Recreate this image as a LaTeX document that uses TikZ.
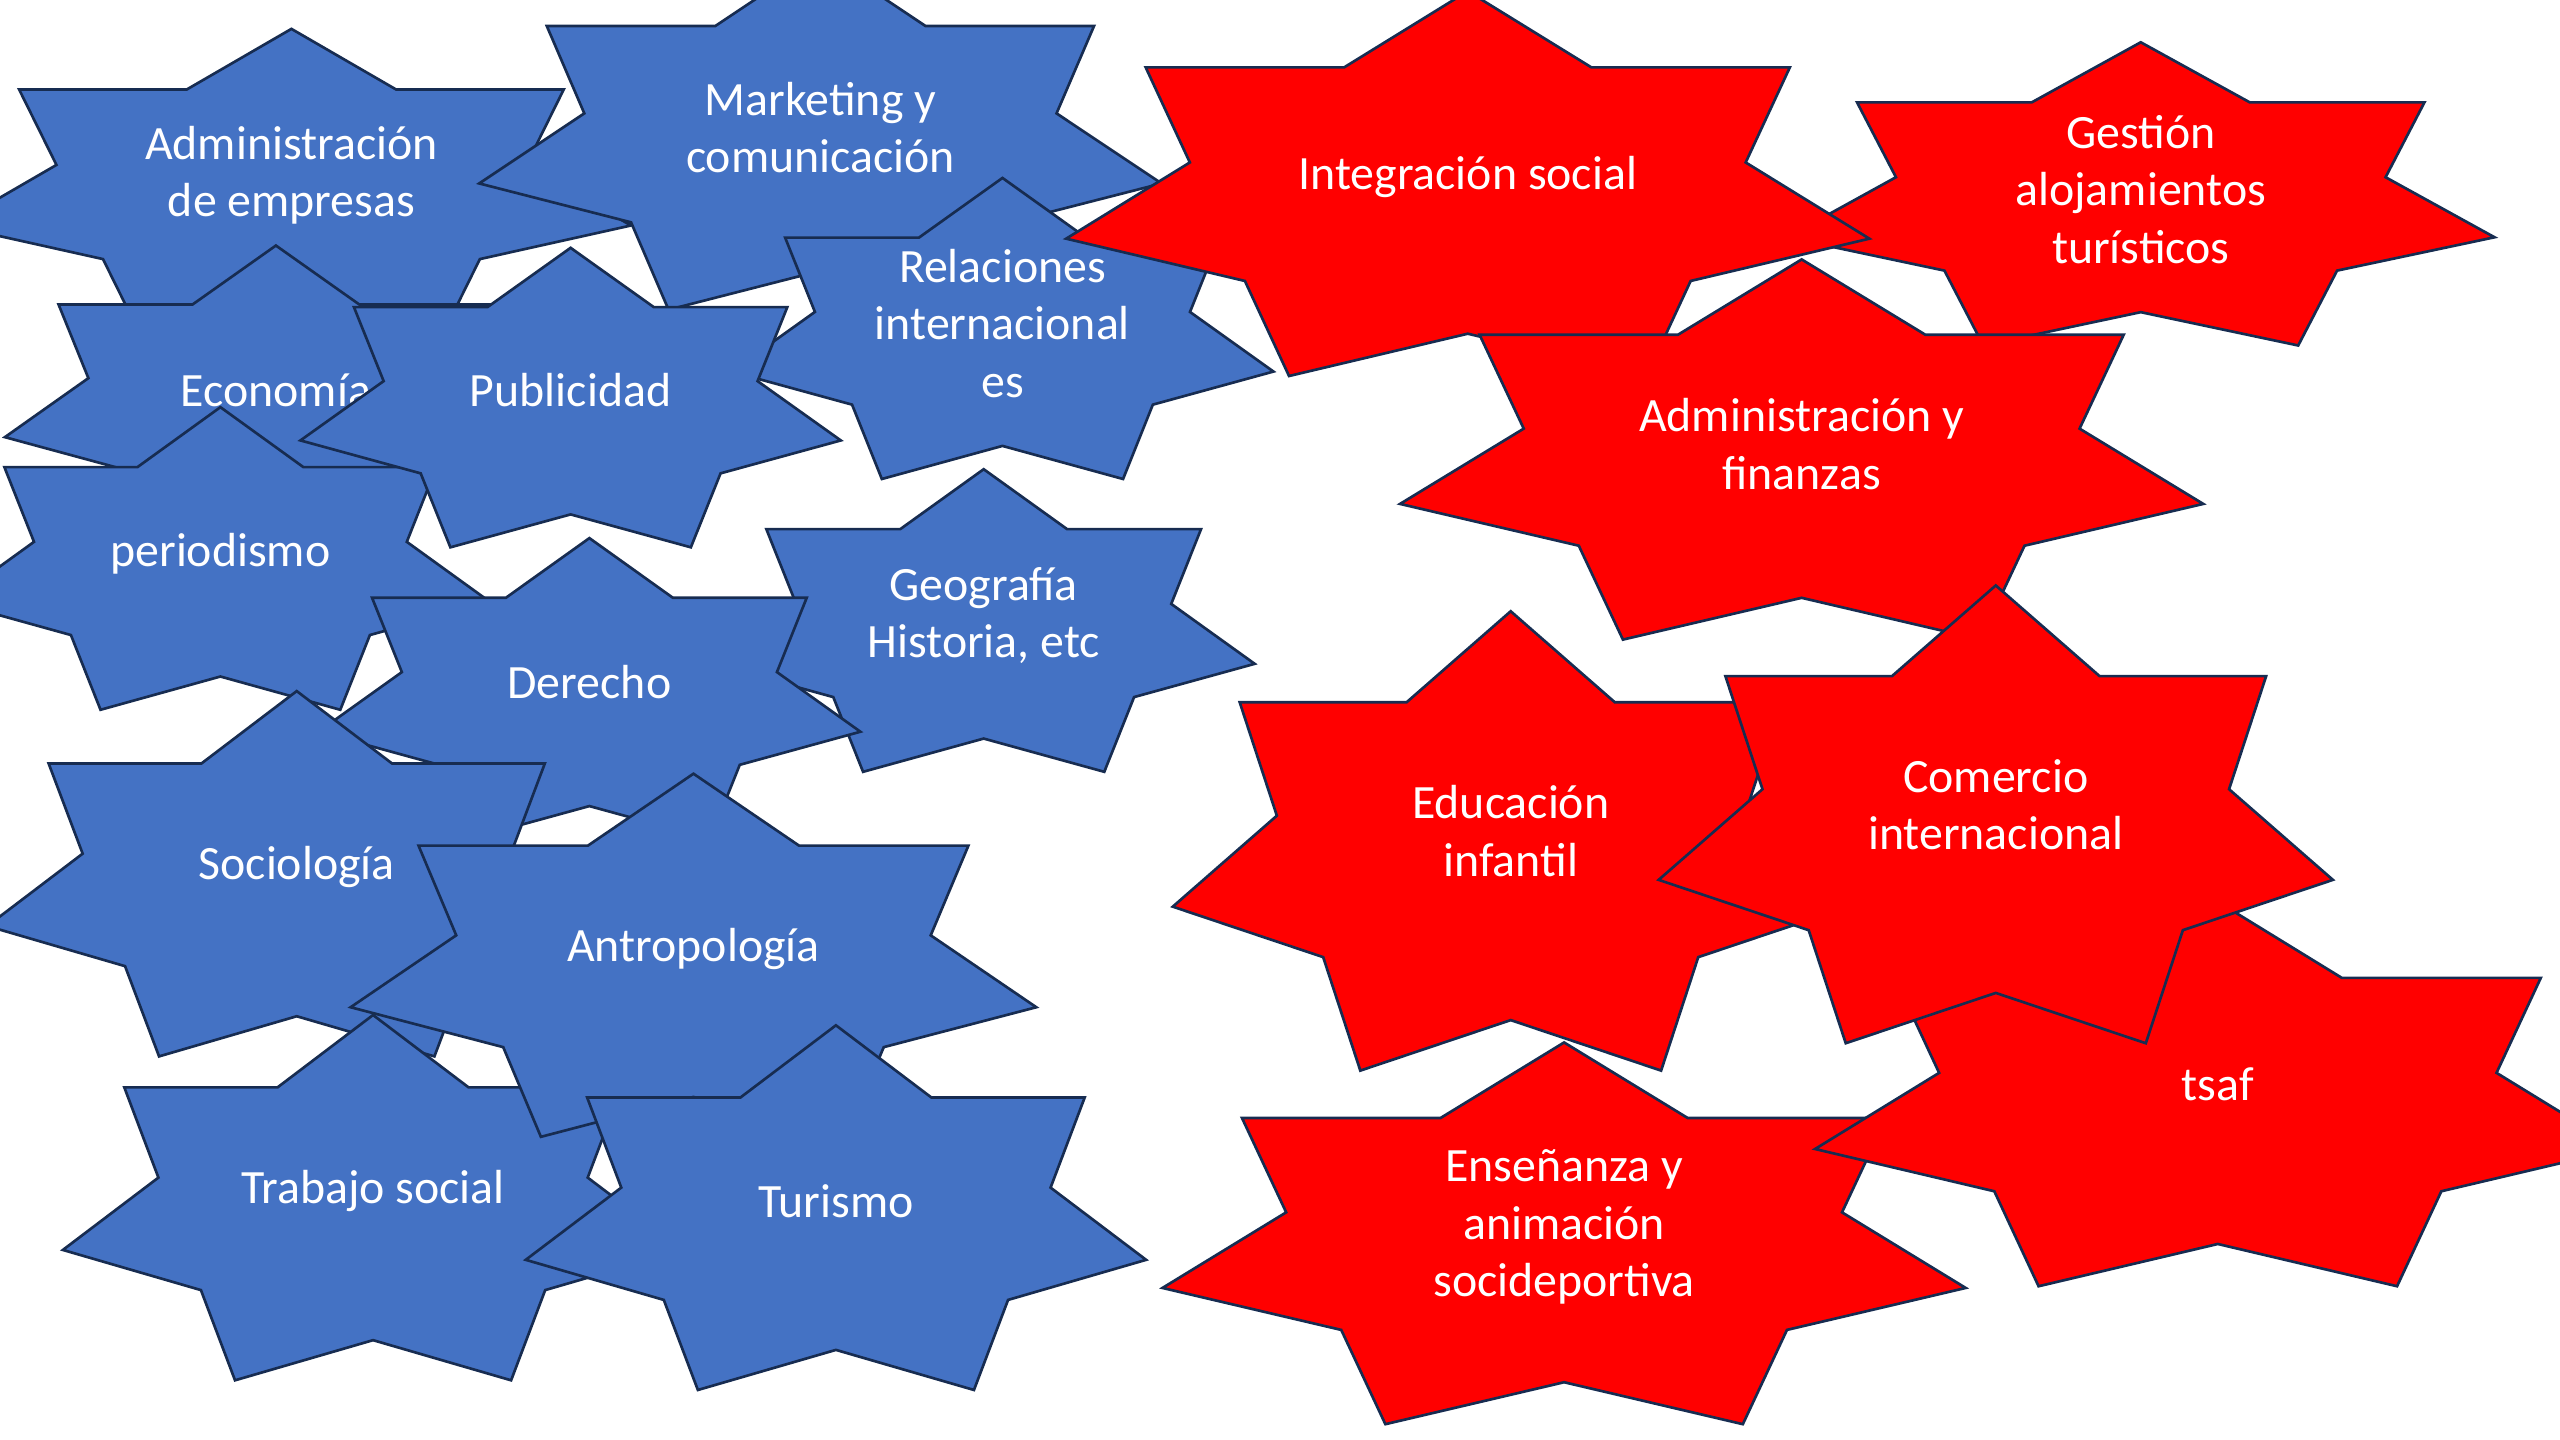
\documentclass[tikz,border=0pt]{standalone}
\usepackage{fontspec}
\setmainfont{Carlito}
\definecolor{starblue}{HTML}{4472C4}
\definecolor{starred}{HTML}{FF0000}
\definecolor{starline}{HTML}{172C51}
\tikzset{
  staredge/.style={draw=starline, line width=1pt, line join=miter},
  startext/.style={text=white, align=center, inner sep=0pt,
    font=\fontsize{18}{21.6}\selectfont}
}
% seven point star: name, centre x, top y, half width, radius y, fill, text y, text
\newcommand{\sevenstar}[8]{
  \filldraw[staredge, fill=#6] plot[variable=\k, samples at={0,...,13}]
    ({#2+#4/0.97493*(1-0.308*mod(\k,2))*cos(90+\k*180/7)},
     {#3+#5-#5*(1-0.308*mod(\k,2))*sin(90+\k*180/7)}) -- cycle;
  \node[startext] (#1) at (#2,#7) {#8};
}
\begin{document}
\begin{tikzpicture}[x=0.0215988cm, y=-0.0215988cm]
\useasboundingbox (0,0) rectangle (1568,882);
\clip (0,0) rectangle (1568,882);

% blue stars
\foreach \nm/\cx/\tp/\hw/\ry/\tyy/\txt in {
  adm/178.5/17.7/208/98.5/107.5/{Administración\\de empresas},
  mkt/502.5/-27/209/114/78/{Marketing y\\comunicación},
  rel/614/109/166/97/198/{Relaciones\\internacional\\es},
  eco/169/150.4/166/96/239/Economía,
  per/135/249.4/165/97.5/339/periodismo,
  pub/349.5/151.8/165.5/96.5/239/Publicidad,
  geo/602.5/287.4/166/97.5/377/{Geografía\\Historia, etc},
  der/361/329.6/166/97/418/Derecho,
  soc/181.75/423.3/189.5/117.7/531/Sociología,
  tra/228.5/621.7/190/117.7/729.5/{Trabajo social},
  ant/424.75/473.9/210/117/581/Antropología,
  tur/512/628/190/117.5/735.5/Turismo}
  {\sevenstar{\nm}{\cx}{\tp}{\hw}{\ry}{starblue}{\tyy}{\txt}}

% red stars
\foreach \nm/\cx/\tp/\hw/\ry/\tyy/\txt in {
  ges/1311.2/25.9/216.7/97.7/116/{Gestión\\alojamientos\\turísticos},
  int/899/-5.4/246/124/108.3/{Integración social},
  adf/1103.5/158.9/246/122.5/272/{Administración y\\finanzas},
  edu/925.3/374.4/207/148/509/{Educación\\infantil},
  ens/958/638.5/246/123/751.7/{Enseñanza y\\animación\\socideportiva},
  tsa/1358.4/552.3/246.7/123.9/664.4/tsaf,
  com/1222.4/358.6/206.5/147.5/493/{Comercio\\internacional}}
  {\sevenstar{\nm}{\cx}{\tp}{\hw}{\ry}{starred}{\tyy}{\txt}}

\end{tikzpicture}
\end{document}
